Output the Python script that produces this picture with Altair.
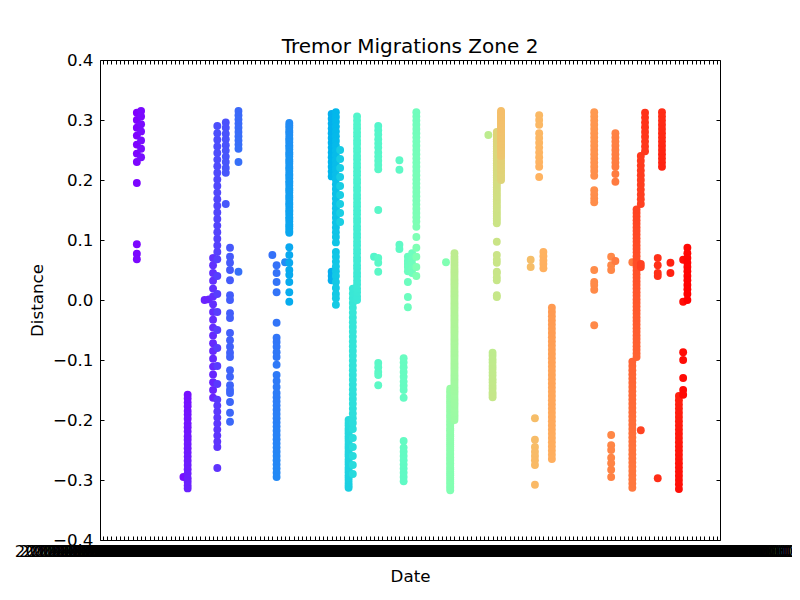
import math
import pandas as pd
import altair as alt

# date categories on the x axis (one tick per date)
dates = pd.date_range("2012-08-01", periods=146, freq="D").strftime("%Y-%m-%d %H:%M:%S").tolist()

# distance values per date index
a08 = [0.312, 0.300, 0.287, 0.274, 0.259, 0.244, 0.230, 0.195, 0.093, 0.077, 0.068]
a09 = [0.315, 0.306, 0.293, 0.281, 0.266, 0.252, 0.238]
b19 = [-0.295]
b20 = [-0.158, -0.164, -0.171, -0.177, -0.185, -0.191, -0.198, -0.206, -0.212, -0.219, -0.227, -0.233,
       -0.240, -0.247, -0.254, -0.261, -0.268, -0.275, -0.282, -0.289, -0.297, -0.303, -0.309, -0.314]
c24 = [0.000]
c25 = [0.001]
c26 = [-0.163, -0.150, -0.137, -0.124, -0.111, -0.098, -0.085, -0.072, -0.059, -0.046, -0.033, -0.020,
       -0.007, 0.006, 0.019, 0.032, 0.045, 0.058, 0.070]
c27 = [-0.280, -0.245, -0.236, -0.226, -0.216, -0.206, -0.196, -0.186, -0.176, -0.166, -0.140, -0.110,
       -0.080, -0.050, -0.020, 0.010, 0.040, 0.068, 0.080, 0.091, 0.102, 0.113, 0.124, 0.135, 0.146, 0.157,
       0.168, 0.179, 0.190, 0.201, 0.212, 0.223, 0.234, 0.245, 0.256, 0.267, 0.278, 0.290]
d29 = [0.296, 0.287, 0.277, 0.268, 0.258, 0.249, 0.239, 0.230, 0.220, 0.212, 0.160]
d30 = [0.087, 0.072, 0.062, 0.050, 0.033, 0.008, 0.000, -0.022, -0.030, -0.055, -0.067, -0.078, -0.088,
       -0.095, -0.117, -0.128, -0.142, -0.150, -0.155, -0.170, -0.188, -0.203]
e32 = [0.315, 0.308, 0.301, 0.294, 0.287, 0.280, 0.273, 0.266, 0.259, 0.252, 0.230, 0.047]
f40 = [0.075]
f41 = [0.058, 0.045, 0.030, 0.013, -0.038, -0.063, -0.070, -0.078, -0.087, -0.095, -0.108, -0.125, -0.135,
       -0.145, -0.155, -0.162, -0.169, -0.176, -0.183, -0.190, -0.197, -0.204, -0.211, -0.218, -0.225, -0.232,
       -0.239, -0.246, -0.253, -0.260, -0.267, -0.274, -0.281, -0.288, -0.295]
g43 = [0.063]
g44 = [0.295, 0.291, 0.287, 0.282, 0.279, 0.275, 0.270, 0.267, 0.263, 0.258, 0.255, 0.251, 0.246, 0.243,
       0.239, 0.234, 0.231, 0.227, 0.222, 0.219, 0.215, 0.210, 0.207, 0.203, 0.198, 0.195, 0.191, 0.186,
       0.183, 0.179, 0.174, 0.171, 0.167, 0.162, 0.159, 0.155, 0.150, 0.147, 0.143, 0.138, 0.135, 0.131,
       0.126, 0.123, 0.119, 0.115, 0.112, 0.088, 0.075, 0.062, 0.050, 0.042, 0.030, 0.013, -0.003]
h54 = [0.047, 0.040, 0.033, 0.310, 0.302, 0.294, 0.286, 0.278, 0.270, 0.262, 0.254, 0.246, 0.238, 0.230,
       0.222, 0.214, 0.206]
h55 = [0.313, 0.305, 0.297, 0.289, 0.281, 0.273, 0.265, 0.257, 0.249, 0.241, 0.233, 0.225, 0.217, 0.209,
       0.201, 0.193, 0.185, 0.177, 0.169, 0.161, 0.153, 0.145, 0.137, 0.129, 0.121, 0.113, 0.105, 0.096,
       0.080, 0.072, 0.064, 0.056, 0.048, 0.040, 0.030, 0.020, 0.010, 0.003, -0.008]
h56 = [0.250, 0.235, 0.220, 0.205, 0.190, 0.175, 0.160, 0.145, 0.130]
i58 = [-0.313, -0.309, -0.305, -0.300, -0.296, -0.292, -0.287, -0.283, -0.279, -0.274, -0.270, -0.266,
       -0.261, -0.257, -0.253, -0.248, -0.244, -0.240, -0.235, -0.231, -0.227, -0.222, -0.218, -0.214,
       -0.209, -0.205, -0.200]
i59 = [-0.290, -0.275, -0.260, -0.245, -0.230, -0.215, -0.205, -0.197, -0.189, -0.181, -0.173, -0.165,
       -0.157, -0.149, -0.141, -0.133, -0.125, -0.117, -0.109, -0.101, -0.093, -0.085, -0.077, -0.069,
       -0.061, -0.053, -0.045, -0.037, -0.029, -0.021, -0.013, -0.005, 0.003, 0.011, 0.019]
i60 = [0.000, 0.006, 0.013, 0.019, 0.026, 0.032, 0.039, 0.045, 0.052, 0.058, 0.065, 0.071, 0.078, 0.084,
       0.091, 0.097, 0.104, 0.110, 0.117, 0.123, 0.130, 0.136, 0.143, 0.149, 0.156, 0.162, 0.169, 0.175,
       0.182, 0.188, 0.195, 0.201, 0.208, 0.214, 0.221, 0.227, 0.234, 0.240, 0.247, 0.253, 0.260, 0.266,
       0.273, 0.279, 0.286, 0.292, 0.299, 0.306]
j64 = [0.072]
j65 = [0.290, 0.283, 0.276, 0.268, 0.261, 0.254, 0.246, 0.239, 0.232, 0.225, 0.218, 0.150, 0.070, 0.062,
       0.047, -0.105, -0.112, -0.120, -0.125, -0.142]
k70 = [0.233, 0.217, 0.092, 0.085]
k71 = [-0.302, -0.295, -0.288, -0.281, -0.274, -0.267, -0.260, -0.253, -0.246, -0.235, -0.163, -0.150,
       -0.143, -0.136, -0.128, -0.120, -0.112, -0.104, -0.097]
k72 = [0.072, 0.065, 0.060, 0.055, 0.048, 0.030, 0.005, -0.012]
l73 = [0.078, 0.068, 0.060, 0.052, 0.045]
l74 = [0.313, 0.306, 0.299, 0.292, 0.285, 0.278, 0.271, 0.264, 0.257, 0.250, 0.243, 0.236, 0.229, 0.222,
       0.215, 0.208, 0.201, 0.194, 0.187, 0.180, 0.173, 0.166, 0.159, 0.152, 0.145, 0.138, 0.131, 0.122,
       0.105, 0.087, 0.072, 0.055, 0.040]
m81 = [0.063]
m82 = [-0.317, -0.313, -0.310, -0.306, -0.303, -0.299, -0.296, -0.292, -0.289, -0.286, -0.282, -0.279,
       -0.275, -0.272, -0.268, -0.265, -0.262, -0.258, -0.255, -0.251, -0.248, -0.244, -0.241, -0.238,
       -0.234, -0.231, -0.227, -0.224, -0.220, -0.217, -0.214, -0.210, -0.207, -0.203, -0.200, -0.196,
       -0.193, -0.190, -0.186, -0.183, -0.179, -0.176, -0.172, -0.169, -0.166, -0.162, -0.159, -0.155,
       -0.152, -0.148]
m83 = [-0.200, -0.196, -0.192, -0.188, -0.184, -0.180, -0.176, -0.172, -0.168, -0.164, -0.160, -0.156,
       -0.152, -0.148, -0.144, -0.140, -0.136, -0.132, -0.128, -0.124, -0.120, -0.116, -0.112, -0.108,
       -0.104, -0.100, -0.096, -0.092, -0.088, -0.084, -0.080, -0.076, -0.072, -0.068, -0.064, -0.060,
       -0.056, -0.052, -0.048, -0.044, -0.040, -0.036, -0.032, -0.028, -0.024, -0.020, -0.016, -0.012,
       -0.008, -0.004, 0.000, 0.004, 0.008, 0.012, 0.016, 0.020, 0.024, 0.028, 0.032, 0.036, 0.040, 0.044,
       0.048, 0.052, 0.057, 0.062, 0.067, 0.072, 0.078]
n91 = [0.275]
n92 = [-0.088, -0.093, -0.099, -0.104, -0.110, -0.115, -0.121, -0.126, -0.132, -0.137, -0.143, -0.148,
       -0.154, -0.158, -0.162]
n93 = [0.005, 0.008, 0.033, 0.038, 0.045, 0.047, 0.062, 0.067, 0.075, 0.097, 0.128, 0.132, 0.136, 0.140,
       0.144, 0.148, 0.152, 0.156, 0.160, 0.164, 0.168, 0.172, 0.176, 0.180, 0.184, 0.188, 0.192, 0.196,
       0.200, 0.204, 0.208, 0.212, 0.216, 0.220, 0.224, 0.228, 0.232, 0.236, 0.240, 0.244, 0.248, 0.252,
       0.256, 0.260, 0.264, 0.268, 0.272, 0.276, 0.280]
n94 = [0.200, 0.204, 0.208, 0.212, 0.216, 0.220, 0.224, 0.228, 0.232, 0.236, 0.240, 0.244, 0.248, 0.252,
       0.256, 0.260, 0.264, 0.268, 0.272, 0.276, 0.280, 0.284, 0.288, 0.292, 0.296, 0.300, 0.304, 0.308,
       0.313, 0.240, 0.245, 0.250, 0.255, 0.260, 0.265, 0.270, 0.275, 0.280, 0.285, 0.290, 0.295, 0.300,
       0.305, 0.310, 0.315]
o101 = [0.067, 0.055]
o102 = [-0.197, -0.233, -0.245, -0.253, -0.260, -0.267, -0.275, -0.308]
o103 = [0.308, 0.300, 0.292, 0.278, 0.270, 0.262, 0.254, 0.246, 0.238, 0.230, 0.222, 0.205]
o104 = [0.080, 0.073, 0.066, 0.060, 0.053]
o106 = [-0.265, -0.258, -0.251, -0.244, -0.237, -0.230, -0.223, -0.216, -0.209, -0.202, -0.195, -0.188,
        -0.181, -0.174, -0.167, -0.160, -0.153, -0.146, -0.139, -0.132, -0.125, -0.118, -0.111, -0.104,
        -0.097, -0.090, -0.083, -0.076, -0.069, -0.062, -0.055, -0.048, -0.041, -0.034, -0.027, -0.020, -0.013]
p116 = [0.313, 0.306, 0.299, 0.292, 0.285, 0.278, 0.271, 0.264, 0.257, 0.250, 0.243, 0.236, 0.229, 0.222,
        0.215, 0.207, 0.183, 0.176, 0.169, 0.163, 0.050, 0.030, 0.025, 0.017, -0.042]
q120 = [0.072, 0.058, 0.050, -0.225, -0.242, -0.250, -0.263, -0.272, -0.283, -0.295]
q121 = [0.278, 0.271, 0.264, 0.257, 0.250, 0.243, 0.236, 0.229, 0.222, 0.210, 0.197, 0.065]
r125 = [0.063, -0.313, -0.306, -0.299, -0.292, -0.285, -0.278, -0.271, -0.264, -0.257, -0.250, -0.243,
        -0.236, -0.229, -0.222, -0.215, -0.208, -0.201, -0.194, -0.187, -0.180, -0.173, -0.166, -0.159,
        -0.152, -0.145, -0.138, -0.131, -0.124, -0.117, -0.110, -0.103]
r126 = [-0.095, -0.089, -0.083, -0.077, -0.071, -0.065, -0.059, -0.053, -0.047, -0.041, -0.035, -0.029,
        -0.023, -0.017, -0.011, -0.005, 0.001, 0.007, 0.013, 0.019, 0.025, 0.031, 0.037, 0.043, 0.049, 0.055,
        0.061, 0.067, 0.073, 0.079, 0.085, 0.091, 0.097, 0.103, 0.109, 0.115, 0.121, 0.127, 0.133, 0.139,
        0.145, 0.151]
r127 = [-0.217, 0.055, 0.060, 0.160, 0.168, 0.176, 0.184, 0.192, 0.200, 0.208, 0.216, 0.224, 0.232, 0.240]
r128 = [0.248, 0.256, 0.264, 0.272, 0.280, 0.288, 0.296, 0.304, 0.312]
s131 = [0.070, 0.058, 0.045, 0.040, -0.297]
s132 = [0.313, 0.306, 0.299, 0.292, 0.285, 0.278, 0.271, 0.264, 0.257, 0.250, 0.243, 0.236, 0.229, 0.222]
t134 = [0.062, 0.045]
u136 = [-0.160, -0.167, -0.174, -0.181, -0.188, -0.195, -0.202, -0.209, -0.216, -0.223, -0.230, -0.237,
        -0.244, -0.251, -0.258, -0.265, -0.272, -0.279, -0.286, -0.293, -0.300, -0.307, -0.315]
u137 = [0.067, -0.003, -0.087, -0.100, -0.130, -0.150, -0.158]
u138 = [0.087, 0.078, 0.070, 0.062, 0.055, 0.048, 0.040, 0.033, 0.025, 0.018, 0.010, 0.000]

columns = [
    (8, a08), (9, a09), (19, b19), (20, b20), (24, c24), (25, c25), (26, c26), (27, c27),
    (29, d29), (30, d30), (32, e32), (40, f40), (41, f41), (43, g43), (44, g44),
    (54, h54), (55, h55), (56, h56), (58, i58), (59, i59), (60, i60), (64, j64), (65, j65),
    (70, k70), (71, k71), (72, k72), (73, l73), (74, l74), (81, m81), (82, m82), (83, m83),
    (91, n91), (92, n92), (93, n93), (94, n94), (101, o101), (102, o102), (103, o103), (104, o104),
    (106, o106), (116, p116), (120, q120), (121, q121), (125, r125), (126, r126), (127, r127),
    (128, r128), (131, s131), (132, s132), (134, t134), (136, u136), (137, u137), (138, u138),
]

rows = []
for idx, vals in columns:
    for v in vals:
        rows.append({"date": dates[idx], "distance": v})
df = pd.DataFrame(rows)
df["order"] = range(len(df))


def rainbow(t):
    # matplotlib's "rainbow" colormap
    r = min(1.0, abs(2 * t - 0.5))
    g = math.sin(math.pi * t)
    b = math.cos(math.pi * t / 2)
    return "#%02x%02x%02x" % (round(r * 255), round(g * 255), round(b * 255))


stops = [rainbow(k / 20) for k in range(21)]

font = "DejaVu Sans"
xscale = alt.Scale(type="point", domain=dates, padding=0.7)
yscale = alt.Scale(domain=[-0.4, 0.4], nice=False, zero=False)
yticks = [-0.4, -0.3, -0.2, -0.1, 0.0, 0.1, 0.2, 0.3, 0.4]

points = alt.Chart(df).mark_circle(size=62, opacity=1).encode(
    x=alt.X("date:O", scale=xscale, sort=dates,
            axis=alt.Axis(title="Date", orient="bottom", offset=-4, tickSize=4, domain=False,
                          labelAngle=0, labelOverlap=False, labelFont=font, labelFontSize=16.7,
                          labelColor="black", labelPadding=3, tickColor="black",
                          titleFont=font, titleFontSize=16.7, titleFontWeight="normal",
                          titleColor="black", titlePadding=9)),
    y=alt.Y("distance:Q", scale=yscale,
            axis=alt.Axis(title="Distance", orient="left", offset=-4, tickSize=4, domain=False, grid=False,
                          values=yticks, format=".1f", labelFont=font, labelFontSize=16.7,
                          labelColor="black", labelPadding=7, tickColor="black",
                          titleFont=font, titleFontSize=16.7, titleFontWeight="normal",
                          titleColor="black", titlePadding=6)),
    color=alt.Color("order:Q", legend=None,
                    scale=alt.Scale(domain=[0, len(df) - 1], range=stops, interpolate="rgb")),
)

mirror = alt.Chart(df).mark_circle(opacity=0).encode(
    x=alt.X("date:O", scale=xscale, sort=dates,
            axis=alt.Axis(title=None, orient="top", offset=-4, tickSize=4, domain=False,
                          labels=False, tickColor="black")),
    y=alt.Y("distance:Q", scale=yscale,
            axis=alt.Axis(title=None, orient="right", offset=-4, tickSize=4, domain=False, grid=False,
                          values=yticks, labels=False, tickColor="black")),
)

chart = alt.layer(points, mirror).resolve_axis(
    x="independent", y="independent"
).properties(
    width=620,
    height=480,
    autosize=alt.AutoSizeParams(type="none"),
    padding={"left": 92, "top": 52, "right": 72, "bottom": 52},
    title=alt.Title("Tremor Migrations Zone 2", font=font, fontSize=20, fontWeight="normal",
                    color="black", anchor="middle", offset=-5),
).configure_view(
    stroke="black", strokeWidth=1
)

chart.save("out.html", embed_options={"renderer": "svg", "actions": False})
